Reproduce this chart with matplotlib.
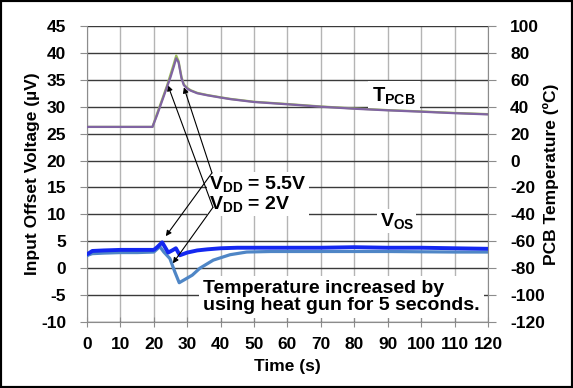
import matplotlib
matplotlib.use("Agg")
import matplotlib.pyplot as plt
from matplotlib.patches import Rectangle

plt.rcParams["font.family"] = ["Liberation Sans", "DejaVu Sans"]
plt.rcParams["font.weight"] = "bold"
plt.rcParams["axes.unicode_minus"] = False
plt.rcParams["mathtext.fontset"] = "custom"
plt.rcParams["mathtext.rm"] = "Liberation Sans:bold"
plt.rcParams["mathtext.bf"] = "Liberation Sans:bold"
plt.rcParams["mathtext.it"] = "Liberation Sans:bold"

# PCB temperature (right axis, degC)
t_temp = [0, 10, 19.6, 21, 22, 23, 24, 25, 26, 26.7, 27.4, 28.3, 29, 30, 31, 33, 36,
          40, 43, 50, 60, 70, 80, 90, 100, 110, 120]
temp_55 = [25, 25, 25, 34, 41, 48, 55, 62, 70, 76, 73, 61, 56, 53.5, 52, 50, 48.5,
           46.8, 45.6, 43.5, 41.8, 40, 38.5, 37.3, 36.3, 35.2, 34.3]
temp_2 = [25, 25, 25, 35, 42, 49, 56, 64, 72, 78, 74, 62, 56.5, 54, 52.3, 50.3, 48.7,
          47, 45.8, 43.7, 42, 40.2, 38.7, 37.5, 36.5, 35.4, 34.5]

# input offset voltage (left axis, uV)
t_vos55 = [0, 0.6, 1.6, 5, 10, 15, 20, 21, 22.5, 24.3, 25.5, 26.6, 27.8, 30, 33, 36,
           40, 45, 50, 60, 70, 80, 90, 100, 110, 120]
vos_55 = [2.6, 2.8, 3.2, 3.3, 3.4, 3.4, 3.4, 3.9, 4.8, 2.9, 3.3, 3.7, 2.4, 2.9, 3.3,
          3.5, 3.7, 3.8, 3.8, 3.8, 3.8, 3.9, 3.8, 3.8, 3.7, 3.6]
t_vos2 = [0, 0.6, 1.6, 5, 10, 15, 20, 21.8, 23, 24.8, 26.3, 27.6, 29, 31.5, 33.8,
          37.8, 42.8, 47.8, 55, 70, 90, 110, 120]
vos_2 = [2.3, 2.5, 2.7, 2.8, 2.9, 2.9, 3.0, 4.0, 3.0, 1.8, -0.7, -2.7, -2.2, -1.3, 0.0,
         1.5, 2.5, 3.0, 3.1, 3.1, 3.1, 3.0, 3.0]

x_ticks = list(range(0, 121, 10))
left_ticks = list(range(-10, 46, 5))
right_ticks = list(range(-120, 101, 20))

fig = plt.figure(figsize=(5.73, 3.88), dpi=100)
ax = fig.add_axes([0.1518, 0.1701, 0.6998, 0.7629])
ax2 = ax.twinx()

grey = "#8c8c8c"
tick_fs = 12.5
ax.set_xlim(0, 120)
ax.set_ylim(-10, 45)
ax2.set_ylim(-120, 100)
ax.set_xticks(x_ticks)
ax.set_xticklabels([str(v) for v in x_ticks], fontsize=tick_fs, fontweight="bold")
ax.set_yticks(left_ticks)
ax.set_yticklabels([str(v) for v in left_ticks], fontsize=tick_fs, fontweight="bold")
ax2.set_yticks(right_ticks)
ax2.set_yticklabels([str(v) for v in right_ticks], fontsize=tick_fs, fontweight="bold")

ax.set_axisbelow(True)
ax.xaxis.grid(True, color="#b4b4b4", lw=1.0)
ax.yaxis.grid(True, color="#3a3a3a", lw=1.0)

for a in (ax, ax2):
    a.spines["top"].set_visible(False)
ax.spines["right"].set_visible(False)
ax2.spines["left"].set_visible(False)
ax2.spines["bottom"].set_visible(False)
ax.spines["left"].set_color(grey)
ax.spines["bottom"].set_color(grey)
ax2.spines["right"].set_color(grey)

ax.tick_params(axis="x", direction="inout", length=7, color=grey, pad=7)
ax.tick_params(axis="y", direction="out", length=5, color=grey, pad=10)
ax2.tick_params(axis="y", direction="out", length=6, color=grey, pad=10)

ax.set_xlabel("Time (s)", fontsize=12.5, fontweight="bold")
ax.set_ylabel("Input Offset Voltage (µV)", fontsize=12.5, fontweight="bold")
ax2.set_ylabel("PCB Temperature (ºC)", fontsize=12.5, fontweight="bold")
ax.xaxis.set_label_coords(0.5, -0.125)
ax.yaxis.set_label_coords(-0.117, 0.5)
ax2.yaxis.set_label_coords(1.137, 0.5)

ax.plot(t_vos2, vos_2, color="#4f86c6", lw=2.3, zorder=4)
ax.plot(t_vos55, vos_55, color="#1428f0", lw=2.8, zorder=5)
ax2.plot(t_temp, temp_2, color="#9bbb59", lw=1.6, zorder=4)
ax2.plot(t_temp, temp_55, color="#8064a2", lw=1.6, zorder=5)

box = dict(facecolor="white", edgecolor="none", pad=1.5)
ax.text(36.6, 13.8, "$\\mathbf{V_{DD}}$ = 5.5V\n$\\mathbf{V_{DD}}$ = 2V", fontsize=14,
        fontweight="bold", ha="left", va="center", linespacing=0.95, bbox=box, zorder=3)
ax.text(92.7, 8.7, "$\\mathbf{V_{OS}}$", fontsize=14, ha="center", va="center",
        bbox=box, zorder=3)
ax.text(91.8, 32.0, "$\\mathbf{T_{PCB}}$", fontsize=14.5, ha="center", va="center",
        bbox=dict(facecolor="white", edgecolor="none", pad=3), zorder=3)
ax.text(34.8, -5.3, "Temperature increased by\nusing heat gun for 5 seconds.",
        fontsize=14, fontweight="bold", ha="left", va="center", linespacing=1.0,
        bbox=dict(facecolor="white", edgecolor="none", pad=3), zorder=3)

arrow = dict(arrowstyle="-|>", color="black", lw=0.8, mutation_scale=8,
             shrinkA=0, shrinkB=0)
ax.annotate("", xy=(29.0, 33.6), xytext=(37.4, 17.7), arrowprops=arrow, zorder=6)
ax.annotate("", xy=(23.6, 5.95), xytext=(37.4, 17.7), arrowprops=arrow, zorder=6)
ax.annotate("", xy=(24.2, 34.0), xytext=(37.7, 11.3), arrowprops=arrow, zorder=6)
ax.annotate("", xy=(25.7, 0.9), xytext=(37.7, 11.3), arrowprops=arrow, zorder=6)

fig.patches.append(Rectangle((0, 0), 1, 1, transform=fig.transFigure, fill=False,
                             lw=3, ec="black"))

fig.savefig("out.png", dpi=100)
